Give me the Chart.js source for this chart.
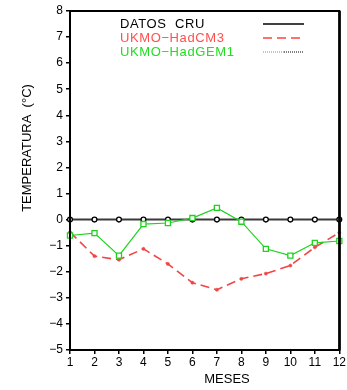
<!DOCTYPE html>
<html>
<head>
<meta charset="utf-8">
<script src="https://cdn.jsdelivr.net/npm/chart.js@4/dist/chart.umd.min.js"></script>
<style>
html,body{margin:0;padding:0;background:#fff;}
#wrap{position:relative;width:347px;height:390px;}
</style>
</head>
<body>
<div id="wrap"><canvas id="c" width="347" height="390"></canvas></div>
<script>
const months = [1,2,3,4,5,6,7,8,9,10,11,12];
const datosCRU = [0,0,0,0,0,0,0,0,0,0,0,0];
const hadCM3 = [-0.48,-1.4,-1.54,-1.12,-1.7,-2.42,-2.69,-2.27,-2.07,-1.76,-1.06,-0.5];
const hadGEM1 = [-0.61,-0.52,-1.38,-0.17,-0.13,0.06,0.45,-0.08,-1.12,-1.38,-0.89,-0.82];
const seriesNames = ['DATOS  CRU','UKMO\u2212HadCM3','UKMO\u2212HadGEM1'];
const yTitle = 'TEMPERATURA  (\u00B0C)';
const xTitle = 'MESES';

const FONT = "'Liberation Sans', Arial, sans-serif";
const RED = '#f04646';
const GREEN = '#1ed21e';

const pts = arr => arr.map((v,i)=>({x:months[i], y:v}));

const decor = {
  id:'decor',
  afterDraw(chart){
    const ctx = chart.ctx, a = chart.chartArea;
    ctx.save();
    // frame
    ctx.strokeStyle = '#000';
    ctx.lineWidth = 2;
    ctx.strokeRect(a.left, a.top, a.right - a.left, a.bottom - a.top);
    ctx.fillStyle = '#000';
    ctx.fillRect(a.right - 1, a.top, 2.5, a.bottom - a.top);
    // legend
    ctx.font = '13px ' + FONT;
    ctx.textBaseline = 'middle';
    ctx.textAlign = 'left';
    const lx = 120, ys = [24, 38, 52], colors = ['#000', '#ff5050', '#22dd22'];
    ctx.letterSpacing = '0.6px';
    seriesNames.forEach((n,i)=>{ ctx.fillStyle = colors[i]; ctx.fillText(n, lx, ys[i]); });
    ctx.letterSpacing = '0px';
    // legend lines
    ctx.lineWidth = 1.5;
    ctx.strokeStyle = '#000'; ctx.setLineDash([]);
    ctx.beginPath(); ctx.moveTo(263, ys[0]); ctx.lineTo(304, ys[0]); ctx.stroke();
    ctx.strokeStyle = '#ff7070'; ctx.lineWidth = 2; ctx.setLineDash([9,5]);
    ctx.beginPath(); ctx.moveTo(263, ys[1]); ctx.lineTo(304, ys[1]); ctx.stroke();
    ctx.lineWidth = 1; ctx.setLineDash([1,1]);
    ctx.strokeStyle = GREEN;
    ctx.beginPath(); ctx.moveTo(263, ys[2]); ctx.lineTo(284, ys[2]); ctx.stroke();
    ctx.strokeStyle = '#000';
    ctx.beginPath(); ctx.moveTo(284, ys[2]); ctx.lineTo(304, ys[2]); ctx.stroke();
    ctx.setLineDash([]);
    // axis titles
    ctx.fillStyle = '#000';
    ctx.font = '13px ' + FONT;
    ctx.textAlign = 'center';
    ctx.fillText(xTitle, 227, 379);
    ctx.translate(27, 148);
    ctx.rotate(-Math.PI/2);
    ctx.fillText(yTitle, 0, 0);
    ctx.restore();
  }
};

new Chart(document.getElementById('c'), {
  type:'line',
  data:{
    datasets:[
      {label:seriesNames[2], data:pts(hadGEM1), borderColor:GREEN, borderWidth:1.2,
       pointStyle:'rect', pointRadius:3.6, pointBorderColor:GREEN, pointBackgroundColor:'#fff',
       pointBorderWidth:1.3, tension:0, clip:false, order:0},
      {label:seriesNames[1], data:pts(hadCM3), borderColor:RED, borderWidth:1.6, borderDash:[9,5],
       pointStyle:'circle', pointRadius:1.6, pointBorderColor:RED, pointBackgroundColor:RED,
       pointBorderWidth:0.5, tension:0, clip:false, order:1},
      {label:seriesNames[0], data:pts(datosCRU), borderColor:'#3a3a3a', borderWidth:2,
       pointStyle:'circle', pointRadius:2.4, pointBorderColor:'#000', pointBackgroundColor:'#fff',
       pointBorderWidth:1.3, tension:0, clip:false, order:2}
    ]
  },
  options:{
    responsive:false,
    animation:false,
    devicePixelRatio:1,
    layout:{padding:{top:11, right:6, left:0, bottom:0}},
    plugins:{legend:{display:false}, tooltip:{enabled:false}},
    scales:{
      x:{type:'linear', min:1, max:12,
         afterFit(s){ s.height = 40; },
         ticks:{stepSize:1, color:'#000', font:{family:FONT, size:12}, padding:1, maxRotation:0},
         grid:{display:true, drawOnChartArea:false, drawTicks:true, tickLength:4, color:'#000', lineWidth:1.5},
         border:{display:false}},
      y:{type:'linear', min:-5, max:8,
         afterFit(s){ s.width = 70; },
         ticks:{stepSize:1, color:'#000', font:{family:FONT, size:12}, padding:3,
                callback:v => String(v).replace('-', '\u2212')},
         grid:{display:true, drawOnChartArea:false, drawTicks:true, tickLength:4, color:'#000', lineWidth:1.5},
         border:{display:false}}
    }
  },
  plugins:[decor]
});
</script>
</body>
</html>
